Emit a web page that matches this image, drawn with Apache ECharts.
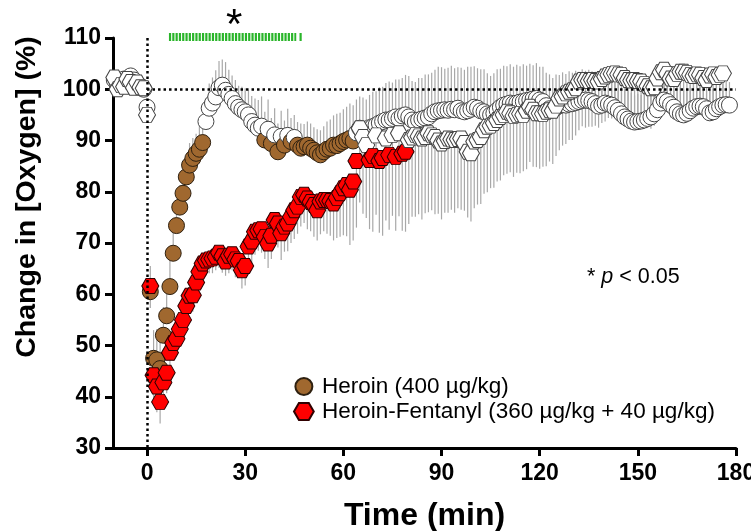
<!DOCTYPE html>
<html>
<head>
<meta charset="utf-8">
<script src="https://cdn.jsdelivr.net/npm/echarts@6/dist/echarts.min.js"></script>
<style>html,body{margin:0;padding:0;background:#fff;}#c{width:751px;height:531px;}</style>
</head>
<body>
<div id="c"></div>
<script>
// ---- data (1-min bins, first bin at startTime) ----
const startTime = -10;
const seriesNames = ['Heroin (400 µg/kg)', 'Heroin-Fentanyl (360 µg/kg + 40 µg/kg)'];
const xTicks = [0, 30, 60, 90, 120, 150, 180];
const heroinMean = [
  101.8,100.4,101.5,102.0,101.2,102.6,101.8,101.0,100.6,100.0,
  96.5,60.5,47.5,47.2,45.5,52.0,55.8,61.5,68.0,73.4,
  77.0,79.7,82.9,85.2,86.5,87.5,88.3,89.6,93.7,96.3,
  97.3,98.5,100.3,100.8,99.8,99.0,98.2,97.2,96.5,96.0,
  95.6,95.0,93.7,93.0,92.4,92.8,90.1,92.2,89.4,91.1,
  87.8,90.8,89.1,91.0,89.8,90.6,89.1,88.5,88.8,89.1,
  88.5,88.1,87.6,87.2,87.8,88.3,88.5,89.1,89.0,89.4,
  89.8,90.1,90.4,89.9,91.5,92.4,91.8,92.0,92.5,92.7,
  93.0,93.4,93.7,94.0,94.0,94.3,94.6,94.3,94.8,95.0,
  94.6,94.0,93.6,94.0,94.2,94.4,94.6,95.2,95.6,95.8,
  95.9,96.0,95.9,96.1,96.0,96.3,95.8,95.6,95.8,96.1,
  96.5,96.3,95.8,95.6,95.2,95.0,95.3,95.9,96.5,96.9,
  97.1,97.3,97.2,97.3,97.5,97.6,97.8,97.9,98.1,98.2,
  97.9,97.6,96.8,96.2,96.0,96.4,96.8,97.0,96.9,97.1,
  97.2,97.4,97.6,97.8,97.9,97.8,97.6,97.2,96.7,96.9,
  97.3,97.1,96.9,96.4,95.9,95.2,94.6,94.2,93.8,93.6,
  93.7,93.8,94.0,94.3,94.6,95.2,96.0,97.3,97.9,97.6,
  97.0,96.5,95.6,95.2,95.0,95.3,95.8,96.3,96.6,96.7,
  96.6,96.2,95.4,95.6,96.2,96.6,96.9,97.0,96.9
];
const heroinSem = [
  0.8,0.6,0.9,0.7,0.8,1.0,0.7,0.6,0.8,0.7,
  1.5,5.0,5.5,6.0,6.5,5.5,5.0,5.0,4.5,4.5,
  4.2,4.0,4.0,4.3,4.0,3.8,4.5,4.0,4.5,4.8,
  5.0,5.2,5.2,5.0,5.5,4.8,4.5,4.6,4.2,4.5,
  4.6,4.8,5.0,5.2,5.5,5.8,5.5,5.8,5.0,5.2,
  5.5,5.0,4.8,5.2,4.6,4.4,4.5,4.8,4.4,4.6,
  4.8,4.5,4.6,4.8,5.0,5.4,5.6,5.8,6.2,6.0,
  6.3,6.5,6.8,7.0,6.5,6.2,6.6,6.0,6.4,6.8,
  6.6,7.0,6.8,7.2,7.5,7.0,7.3,7.6,7.4,7.8,
  8.0,7.6,7.8,8.2,8.0,8.5,8.3,8.0,8.2,8.6,
  8.4,8.0,8.3,8.5,8.1,8.0,8.4,8.2,8.6,8.3,
  8.0,7.8,8.1,8.3,7.9,7.6,7.8,8.0,7.5,7.7,
  7.4,7.6,7.2,7.5,7.0,7.3,6.8,7.1,6.6,6.9,
  6.5,6.8,6.4,6.7,6.2,6.5,6.0,6.3,6.1,6.4,
  6.0,6.2,5.8,6.1,5.7,6.0,5.9,6.2,5.8,6.0,
  5.6,5.9,5.5,5.8,5.4,5.7,5.3,5.6,5.5,5.2,
  5.4,5.1,5.3,5.5,5.2,5.0,5.3,4.9,5.2,5.0,
  4.8,5.1,4.9,5.2,5.0,4.7,5.0,4.8,4.6,4.9,
  4.7,5.0,4.8,4.5,4.8,4.6,4.9,4.7,4.5
];
const fentanylMean = [
  102.3,100.0,100.8,100.5,102.0,101.4,100.3,101.3,100.4,100.2,
  95.0,61.6,44.2,42.0,39.0,42.8,44.7,48.6,50.5,51.3,
  53.2,55.0,57.7,59.7,59.8,62.3,64.4,66.0,66.6,66.8,
  67.0,67.3,68.1,67.4,66.4,67.5,67.8,66.8,66.5,64.7,
  65.5,69.3,70.3,72.2,72.5,72.7,71.2,69.9,71.4,74.5,
  73.8,71.9,73.2,73.8,75.1,76.4,77.1,79.0,79.4,78.7,
  78.0,77.4,76.4,78.1,78.4,78.4,78.2,77.7,78.8,79.7,
  80.7,81.3,80.4,82.0,86.0,92.4,90.7,89.1,86.2,87.0,
  91.0,86.0,86.6,90.4,87.2,91.1,86.8,91.4,87.4,87.8,
  90.1,90.6,91.1,90.8,90.4,90.7,91.4,91.0,90.7,90.0,
  89.4,89.9,90.4,90.2,90.1,90.3,90.4,89.5,87.8,87.5,
  89.8,90.1,90.7,92.0,92.7,92.9,93.4,94.0,94.6,95.0,
  95.6,95.3,94.8,95.0,95.2,95.0,95.8,96.6,96.0,95.3,
  95.3,95.2,95.6,95.9,95.8,96.8,98.2,98.6,99.2,99.5,
  99.8,100.2,101.5,101.8,101.8,101.6,101.8,101.6,101.5,102.0,
  102.5,102.8,103.0,103.1,102.9,102.8,102.2,101.8,101.7,101.8,
  101.6,101.5,101.0,100.6,100.2,100.4,102.1,103.3,103.8,103.0,
  102.1,102.0,103.0,103.4,103.4,103.2,102.8,102.6,102.9,102.8,
  102.2,101.8,102.7,102.9,102.4,102.8,103.1
];
const fentanylSem = [
  0.7,0.9,0.6,0.8,0.7,0.9,0.8,0.6,0.7,0.8,
  1.5,4.3,5.5,5.0,4.2,4.5,4.0,3.8,3.5,3.2,
  3.0,3.3,3.0,2.8,3.2,2.5,2.8,2.6,3.0,2.7,
  2.9,2.6,3.0,3.2,2.8,3.4,3.1,3.5,3.3,3.6,
  3.8,4.0,4.2,4.5,4.0,4.6,4.3,4.8,4.5,5.0,
  4.7,5.2,4.9,5.4,5.1,5.6,5.3,5.8,5.5,6.0,
  5.7,6.2,5.9,6.4,6.1,6.6,6.8,7.2,7.8,8.5,
  9.2,10.0,10.8,11.5,13.0,14.5,15.0,14.2,13.5,14.8,
  15.5,14.0,15.2,16.0,14.6,15.8,14.4,16.2,15.0,15.6,
  16.4,15.5,16.0,15.2,15.8,14.9,15.4,14.6,15.1,14.3,
  14.8,14.0,14.5,13.7,14.2,13.5,13.9,13.2,12.8,13.3,
  13.0,12.6,13.1,12.4,12.8,12.2,12.6,12.0,12.4,11.8,
  12.1,11.5,11.9,11.3,11.6,11.0,11.4,10.8,11.1,10.5,
  10.8,10.3,10.6,10.0,10.4,9.8,10.1,9.6,9.9,9.4,
  9.7,9.2,9.5,9.0,9.3,8.9,9.1,8.7,9.0,8.6,
  8.8,8.4,8.7,8.3,8.5,8.1,8.4,8.0,8.2,7.9,
  8.1,7.8,8.0,7.6,7.9,7.5,7.8,7.4,7.7,7.3,
  7.6,7.2,7.5,7.1,7.4,7.0,7.3,6.9,7.2,6.8,
  7.1,6.7,7.0,6.6,6.9,6.5,6.8
];
// time bins significantly different from baseline (filled markers)
const heroinSigRanges = [[1,17],[36,36],[38,38],[40,40],[42,42],[44,44],[46,63]];
const fentanylSigRanges = [[1,64],[68,69],[71,72],[74,74],[76,76],[78,79]];
// time bins where groups differ (green bar)
const groupDiffRanges = [[6.7,45.6],[46.6,47.3]];
const groupDiffLevel = 110.2;
const baselineValue = 100;
const injectionTime = 0;

// ---- styles ----
const FONT = '"Liberation Sans", Arial, Helvetica, sans-serif';
const brown = '#a0682f';
const red = '#ff0000';
const hexPath = 'path://M0,43 L25,0 L75,0 L100,43 L75,86 L25,86 Z';

function inRanges(t, ranges) {
  return ranges.some(r => t >= r[0] && t <= r[1]);
}
function buildPoints(means, ranges) {
  return means.map((v, i) => {
    const t = startTime + i;
    const item = { value: [t, v] };
    if (!inRanges(t, ranges)) item.itemStyle = { color: '#ffffff', borderColor: '#444' };
    return item;
  });
}
function buildBars(means, sems, dir) {
  return means.map((v, i) => [startTime + i, v, v + dir * sems[i]]);
}
const errData = buildBars(heroinMean, heroinSem, 1).concat(buildBars(fentanylMean, fentanylSem, -1));

const chart = echarts.init(document.getElementById('c'), null, { renderer: 'canvas' });
chart.setOption({
  animation: false,
  backgroundColor: '#fff',
  grid: { left: 113, right: 15, top: 38, bottom: 83, containLabel: false, outerBoundsMode: 'none' },
  xAxis: {
    type: 'value', min: -10.4, max: 180,
    name: 'Time (min)', nameLocation: 'middle', nameGap: 52,
    nameTextStyle: { fontFamily: FONT, fontWeight: 'bold', fontSize: 32, color: '#000' },
    axisLine: { show: true, onZero: false, lineStyle: { color: '#000', width: 3 } },
    axisTick: { show: true, inside: false, length: 8, lineStyle: { color: '#000', width: 3 }, customValues: xTicks },
    axisLabel: { fontFamily: FONT, fontWeight: 'bold', fontSize: 23, color: '#000', margin: 14, customValues: xTicks },
    splitLine: { show: false }
  },
  yAxis: {
    type: 'value', min: 30, max: 110, interval: 10,
    name: 'Change in [Oxygen] (%)', nameLocation: 'middle', nameGap: 71, nameRotate: 90,
    nameTextStyle: { fontFamily: FONT, fontWeight: 'bold', fontSize: 28.5, color: '#000', padding: [0, 0, 0, 92] },
    axisLine: { show: true, onZero: false, lineStyle: { color: '#000', width: 3 } },
    axisTick: { show: true, inside: false, length: 8, lineStyle: { color: '#000', width: 3 } },
    axisLabel: { fontFamily: FONT, fontWeight: 'bold', fontSize: 23, color: '#000', margin: 12 },
    splitLine: { show: false }
  },
  legend: {
    orient: 'vertical', left: 288, top: 370, itemGap: 2,
    itemWidth: 26, itemHeight: 17,
    textStyle: { fontFamily: FONT, fontSize: 22.5, color: '#000' },
    data: seriesNames
  },
  graphic: [
    { type: 'text', left: 587, top: 266, z: 10,
      style: { text: '* {i|p} < 0.05', fill: '#000', font: '21.5px ' + FONT,
        rich: { i: { fontStyle: 'italic', fontSize: 21.5, fontFamily: FONT, fill: '#000' } } } },
    { type: 'text', left: 226, top: 5, z: 10,
      style: { text: '*', fill: '#000', font: '42px ' + FONT } }
  ],
  series: [
    {
      type: 'custom', name: 'err', silent: true, z: 1, clip: false,
      data: errData,
      encode: { x: 0, y: [1, 2] },
      renderItem: function (params, api) {
        const p1 = api.coord([api.value(0), api.value(1)]);
        const p2 = api.coord([api.value(0), api.value(2)]);
        return { type: 'line', shape: { x1: p1[0], y1: p1[1], x2: p2[0], y2: p2[1] },
          style: { stroke: '#a8a8a8', lineWidth: 1.2 } };
      },
      markLine: {
        silent: true, symbol: 'none', animation: false,
        label: { show: false },
        lineStyle: { color: '#000', width: 2.5, type: [2.5, 3] },
        data: [
          [{ coord: [injectionTime, 110] }, { coord: [injectionTime, 30] }],
          [{ coord: [injectionTime, baselineValue] }, { coord: [180, baselineValue] }]
        ]
      }
    },
    {
      type: 'scatter', name: seriesNames[0], z: 3, clip: false,
      symbol: 'circle', symbolSize: 16,
      itemStyle: { color: brown, borderColor: '#2e2010', borderWidth: 1, opacity: 1 },
      data: buildPoints(heroinMean, heroinSigRanges)
    },
    {
      type: 'scatter', name: seriesNames[1], z: 4, clip: false,
      symbol: hexPath, symbolSize: [17, 15], symbolKeepAspect: false,
      itemStyle: { color: red, borderColor: '#300000', borderWidth: 1, opacity: 1 },
      data: buildPoints(fentanylMean, fentanylSigRanges)
    },
    {
      type: 'custom', name: 'groupDiff', silent: true, z: 5, clip: false,
      data: groupDiffRanges.map(r => [r[0], r[1], groupDiffLevel]),
      encode: { x: [0, 1], y: 2 },
      renderItem: function (params, api) {
        const a = api.coord([api.value(0), api.value(2)]);
        const b = api.coord([api.value(1), api.value(2)]);
        return { type: 'line', shape: { x1: a[0], y1: a[1], x2: b[0], y2: b[1] },
          style: { stroke: '#2ab52a', lineWidth: 8, lineDash: [2.2, 1.1] } };
      }
    }
  ]
});
</script>
</body>
</html>
